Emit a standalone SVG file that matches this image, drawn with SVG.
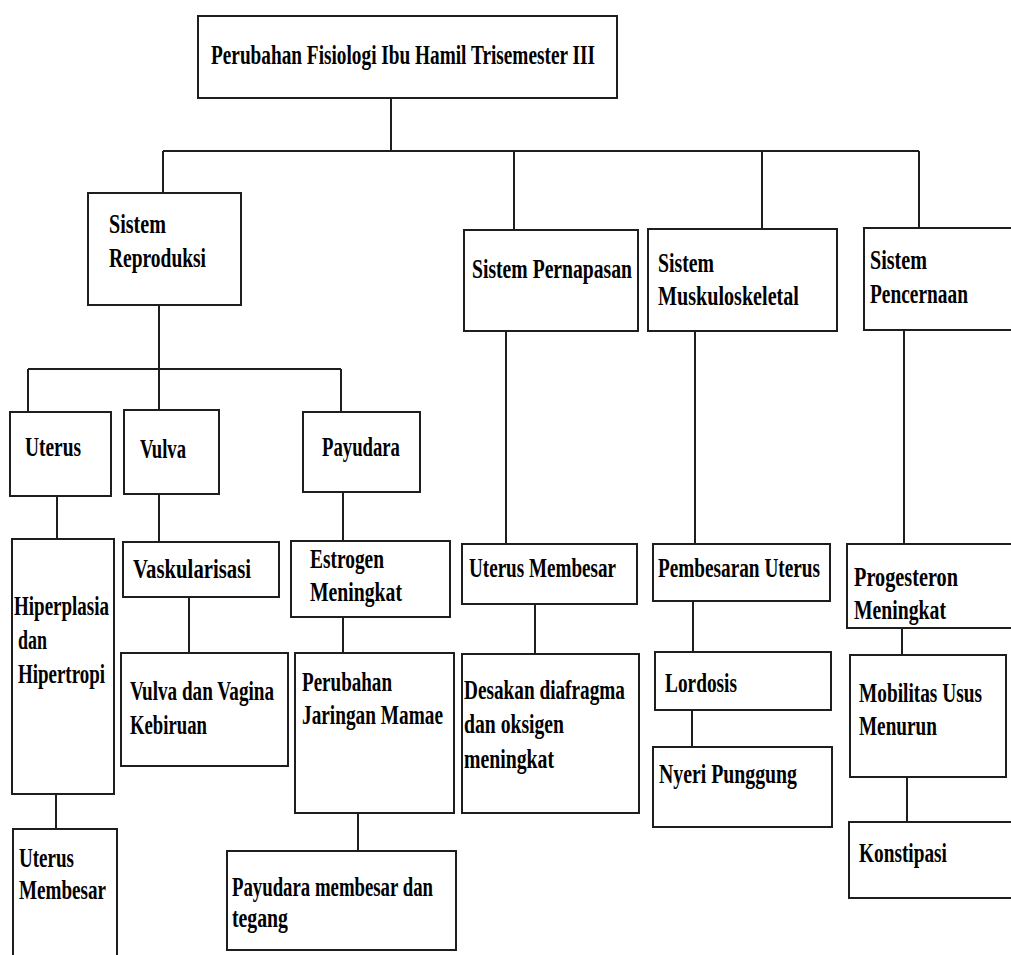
<svg xmlns="http://www.w3.org/2000/svg" width="1011" height="955" viewBox="0 0 1011 955">
<style>
.box{fill:#fff;stroke:#1e1e1e;stroke-width:2}
.ln{fill:none;stroke:#1e1e1e;stroke-width:2}
text{font-family:"Liberation Serif","Times New Roman",serif;font-weight:bold;font-size:28px;fill:#000}
</style>
<rect x="0" y="0" width="1011" height="955" fill="#fff"/>
<g id="connectors">
<path class="ln" d="M391 98V151M163 151H919M163 151V193M514 151V230M762 151V229M919 151V228"/>
<path class="ln" d="M159 305V410M28 369H341M28 369V412M341 369V412"/>
<path class="ln" d="M57 496V539M56 794V829M159 494V542M189 597V653M343 492V541M343 617V653M358 813V851"/>
<path class="ln" d="M506 331V544M535 604V654M695 331V544M693 601V652M692 710V747M904 330V544M902 628V655M907 777V822"/>
</g>
<g id="root"><rect class="box" x="198" y="16" width="419" height="82"/><text transform="scale(0.69 1)" x="305.8" y="64" textLength="556.5" lengthAdjust="spacingAndGlyphs">Perubahan Fisiologi Ibu Hamil Trisemester III</text></g>
<g id="reproduksi"><rect class="box" x="88" y="193" width="153" height="112"/><text transform="scale(0.69 1)" x="158" y="233" textLength="82.6" lengthAdjust="spacingAndGlyphs">Sistem</text><text transform="scale(0.69 1)" x="158" y="267" textLength="140.6" lengthAdjust="spacingAndGlyphs">Reproduksi</text></g>
<g id="pernapasan"><rect class="box" x="464" y="230" width="174" height="101"/><text transform="scale(0.69 1)" x="684.1" y="278" textLength="231.9" lengthAdjust="spacingAndGlyphs">Sistem Pernapasan</text></g>
<g id="muskuloskeletal"><rect class="box" x="648" y="229" width="189" height="102"/><text transform="scale(0.69 1)" x="953.6" y="272" textLength="81.2" lengthAdjust="spacingAndGlyphs">Sistem</text><text transform="scale(0.69 1)" x="953.6" y="305" textLength="204.3" lengthAdjust="spacingAndGlyphs">Muskuloskeletal</text></g>
<g id="pencernaan"><rect class="box" x="864" y="228" width="160" height="102"/><text transform="scale(0.69 1)" x="1260.9" y="269" textLength="82.6" lengthAdjust="spacingAndGlyphs">Sistem</text><text transform="scale(0.69 1)" x="1260.9" y="303" textLength="142" lengthAdjust="spacingAndGlyphs">Pencernaan</text></g>
<g id="uterus"><rect class="box" x="10" y="412" width="101" height="84"/><text transform="scale(0.69 1)" x="36.2" y="456" textLength="81.2" lengthAdjust="spacingAndGlyphs">Uterus</text></g>
<g id="vulva"><rect class="box" x="124" y="410" width="95" height="84"/><text transform="scale(0.69 1)" x="202.9" y="458" textLength="66.7" lengthAdjust="spacingAndGlyphs">Vulva</text></g>
<g id="payudara"><rect class="box" x="303" y="412" width="117" height="80"/><text transform="scale(0.69 1)" x="466.7" y="456" textLength="113" lengthAdjust="spacingAndGlyphs">Payudara</text></g>
<g id="hiperplasia"><rect class="box" x="12" y="539" width="102" height="255"/><text transform="scale(0.69 1)" x="20.3" y="615" textLength="137.7" lengthAdjust="spacingAndGlyphs">Hiperplasia</text><text transform="scale(0.69 1)" x="26.1" y="649" textLength="42" lengthAdjust="spacingAndGlyphs">dan</text><text transform="scale(0.69 1)" x="26.1" y="683" textLength="126.1" lengthAdjust="spacingAndGlyphs">Hipertropi</text></g>
<g id="uterus-membesar-1"><rect class="box" x="13" y="829" width="104" height="141"/><text transform="scale(0.69 1)" x="27.5" y="867" textLength="79.7" lengthAdjust="spacingAndGlyphs">Uterus</text><text transform="scale(0.69 1)" x="27.5" y="899" textLength="126.1" lengthAdjust="spacingAndGlyphs">Membesar</text></g>
<g id="vaskularisasi"><rect class="box" x="123" y="542" width="156" height="55"/><text transform="scale(0.69 1)" x="192.8" y="578" textLength="171" lengthAdjust="spacingAndGlyphs">Vaskularisasi</text></g>
<g id="vulva-vagina"><rect class="box" x="121" y="653" width="167" height="113"/><text transform="scale(0.69 1)" x="188.4" y="700" textLength="208.7" lengthAdjust="spacingAndGlyphs">Vulva dan Vagina</text><text transform="scale(0.69 1)" x="188.4" y="734" textLength="111.6" lengthAdjust="spacingAndGlyphs">Kebiruan</text></g>
<g id="estrogen"><rect class="box" x="291" y="541" width="159" height="76"/><text transform="scale(0.69 1)" x="449.3" y="568" textLength="107.2" lengthAdjust="spacingAndGlyphs">Estrogen</text><text transform="scale(0.69 1)" x="449.3" y="601" textLength="133.3" lengthAdjust="spacingAndGlyphs">Meningkat</text></g>
<g id="jaringan-mamae"><rect class="box" x="295" y="653" width="159" height="160"/><text transform="scale(0.69 1)" x="437.7" y="691" textLength="130.4" lengthAdjust="spacingAndGlyphs">Perubahan</text><text transform="scale(0.69 1)" x="437.7" y="724" textLength="204.3" lengthAdjust="spacingAndGlyphs">Jaringan Mamae</text></g>
<g id="payudara-membesar"><rect class="box" x="227" y="851" width="229" height="99"/><text transform="scale(0.69 1)" x="336.2" y="896" textLength="291.3" lengthAdjust="spacingAndGlyphs">Payudara membesar dan</text><text transform="scale(0.69 1)" x="336.2" y="927" textLength="81.2" lengthAdjust="spacingAndGlyphs">tegang</text></g>
<g id="uterus-membesar-2"><rect class="box" x="462" y="544" width="175" height="60"/><text transform="scale(0.69 1)" x="679.7" y="577" textLength="213" lengthAdjust="spacingAndGlyphs">Uterus Membesar</text></g>
<g id="desakan"><rect class="box" x="462" y="654" width="177" height="159"/><text transform="scale(0.69 1)" x="672.5" y="699" textLength="233.3" lengthAdjust="spacingAndGlyphs">Desakan diafragma</text><text transform="scale(0.69 1)" x="672.5" y="733" textLength="144.9" lengthAdjust="spacingAndGlyphs">dan oksigen</text><text transform="scale(0.69 1)" x="672.5" y="768" textLength="130.4" lengthAdjust="spacingAndGlyphs">meningkat</text></g>
<g id="pembesaran"><rect class="box" x="653" y="544" width="177" height="57"/><text transform="scale(0.69 1)" x="953.6" y="577" textLength="234.8" lengthAdjust="spacingAndGlyphs">Pembesaran Uterus</text></g>
<g id="lordosis"><rect class="box" x="655" y="652" width="176" height="58"/><text transform="scale(0.69 1)" x="963.8" y="692" textLength="104.3" lengthAdjust="spacingAndGlyphs">Lordosis</text></g>
<g id="nyeri"><rect class="box" x="653" y="747" width="179" height="80"/><text transform="scale(0.69 1)" x="955.1" y="783" textLength="200" lengthAdjust="spacingAndGlyphs">Nyeri Punggung</text></g>
<g id="progesteron"><rect class="box" x="847" y="544" width="177" height="84"/><text transform="scale(0.69 1)" x="1237.7" y="586" textLength="150.7" lengthAdjust="spacingAndGlyphs">Progesteron</text><text transform="scale(0.69 1)" x="1237.7" y="619" textLength="133.3" lengthAdjust="spacingAndGlyphs">Meningkat</text></g>
<g id="mobilitas"><rect class="box" x="850" y="655" width="156" height="122"/><text transform="scale(0.69 1)" x="1244.9" y="702" textLength="178.3" lengthAdjust="spacingAndGlyphs">Mobilitas Usus</text><text transform="scale(0.69 1)" x="1244.9" y="735" textLength="113" lengthAdjust="spacingAndGlyphs">Menurun</text></g>
<g id="konstipasi"><rect class="box" x="849" y="822" width="175" height="76"/><text transform="scale(0.69 1)" x="1244.9" y="862" textLength="127.5" lengthAdjust="spacingAndGlyphs">Konstipasi</text></g>
</svg>
